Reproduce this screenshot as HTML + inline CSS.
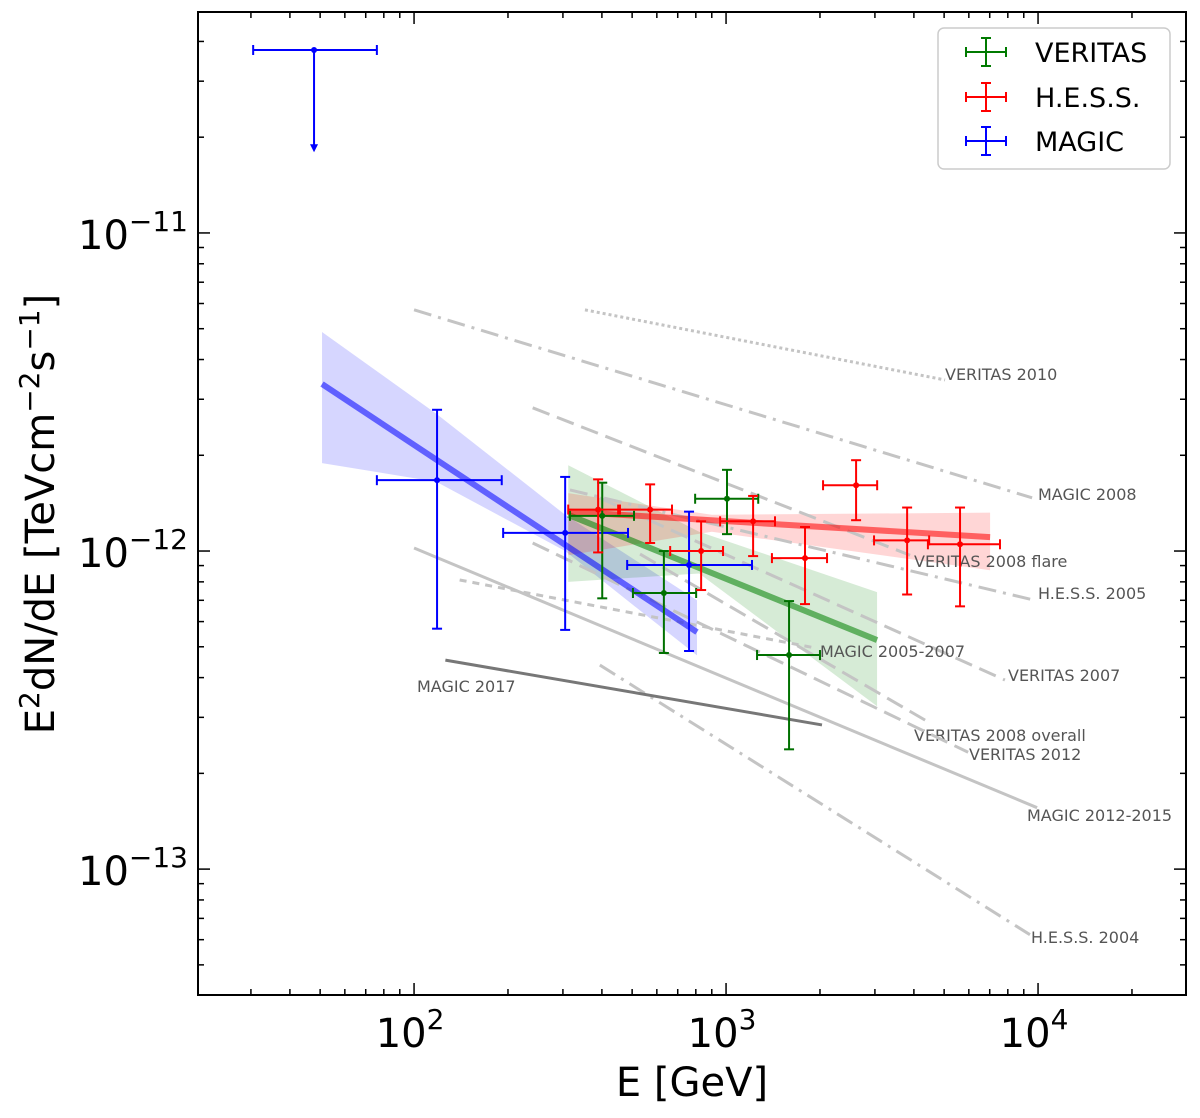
<!DOCTYPE html>
<html><head><meta charset="utf-8"><style>
body{margin:0;background:#fff;}
svg{display:block;font-family:"DejaVu Sans","Liberation Sans",sans-serif;}
</style></head><body>
<svg id="chart" width="1200" height="1118" viewBox="0 0 1200 1118" xmlns="http://www.w3.org/2000/svg">
<rect x="0" y="0" width="1200" height="1118" fill="#fff"/>
<g id="bands"></g><g id="refs"></g><g id="fits"></g><g id="pts"></g><g id="axes"></g>
<g>
<rect x="938" y="28" width="232" height="141" rx="6" fill="#fff" fill-opacity="0.85" stroke="#ccc" stroke-width="1.5"/>
<g stroke="#007a00" stroke-width="2"><line x1="966" y1="52" x2="1006" y2="52"/><line x1="986" y1="38" x2="986" y2="66"/><line x1="966" y1="47" x2="966" y2="57"/><line x1="1006" y1="47" x2="1006" y2="57"/><line x1="981" y1="38" x2="991" y2="38"/><line x1="981" y1="66" x2="991" y2="66"/></g>
<text x="1035" y="62" font-size="27" fill="#000">VERITAS</text>
<g stroke="#ff0000" stroke-width="2"><line x1="966" y1="97" x2="1006" y2="97"/><line x1="986" y1="83" x2="986" y2="111"/><line x1="966" y1="92" x2="966" y2="102"/><line x1="1006" y1="92" x2="1006" y2="102"/><line x1="981" y1="83" x2="991" y2="83"/><line x1="981" y1="111" x2="991" y2="111"/></g>
<text x="1035" y="107" font-size="27" fill="#000">H.E.S.S.</text>
<g stroke="#0000ff" stroke-width="2"><line x1="966" y1="141" x2="1006" y2="141"/><line x1="986" y1="127" x2="986" y2="155"/><line x1="966" y1="136" x2="966" y2="146"/><line x1="1006" y1="136" x2="1006" y2="146"/><line x1="981" y1="127" x2="991" y2="127"/><line x1="981" y1="155" x2="991" y2="155"/></g>
<text x="1035" y="151" font-size="27" fill="#000">MAGIC</text>
</g>
</svg>
<script>
// ---- data (E in GeV, flux in 1e-12 TeV cm^-2 s^-1) ----
const magicE = [118.5, 305, 761];
const magicF = [1.67, 1.14, 0.904];
const magicElo = [76, 193, 482];
const magicEhi = [191, 485, 1211];
const magicFlo = [0.57, 0.565, 0.485];
const magicFhi = [2.78, 1.71, 1.33];
const magicUL = [47.8, 37.6, 30.5, 76, 18.2]; // E, F, Elo, Ehi, arrow end
const veritasE = [401, 632, 1007, 1592];
const veritasF = [1.29, 0.738, 1.46, 0.471];
const veritasElo = [316, 503, 796, 1257];
const veritasEhi = [507, 802, 1268, 2000];
const veritasFlo = [0.71, 0.478, 1.13, 0.238];
const veritasFhi = [1.64, 1.0, 1.80, 0.696];
const hessE = [389, 571, 832, 1221, 1791, 2611, 3805, 5623];
const hessF = [1.35, 1.35, 1.0, 1.24, 0.95, 1.61, 1.08, 1.05];
const hessElo = [312, 451, 662, 957, 1403, 2046, 2981, 4436];
const hessEhi = [457, 671, 978, 1435, 2107, 3050, 4477, 7551];
const hessFlo = [0.99, 1.06, 0.754, 0.964, 0.681, 1.25, 0.73, 0.67];
const hessFhi = [1.68, 1.62, 1.24, 1.49, 1.19, 1.93, 1.37, 1.37];
// fits
const magicFitE = [50.7, 807];
const magicFitF = [3.35, 0.556];
const magicBandE = [50.7, 118, 305, 500, 807];
const magicBandHi = [4.88, 2.7, 1.3, 0.95, 0.70];
const magicBandLo = [1.89, 1.65, 1.0, 0.68, 0.47];
const veritasFitE = [312, 3048];
const veritasFitF = [1.30, 0.525];
const veritasBandE = [312, 820, 3048];
const veritasBandHi = [1.86, 1.15, 0.743];
const veritasBandLo = [0.80, 0.85, 0.325];
const hessFitE = [312, 7020];
const hessFitF = [1.33, 1.106];
const hessBandE = [312, 900, 7020];
const hessBandHi = [1.52, 1.30, 1.32];
const hessBandLo = [0.97, 1.15, 0.87];
// reference spectra
const refNames = ["VERITAS 2010","MAGIC 2008","VERITAS 2008 flare","H.E.S.S. 2005","VERITAS 2007","MAGIC 2005-2007","VERITAS 2008 overall","VERITAS 2012","MAGIC 2012-2015","H.E.S.S. 2004","MAGIC 2017"];
const refE1 = [353, 100, 240, 316, 394, 140, 530, 240, 100, 394, 126];
const refE2 = [5035, 9570, 3890, 9770, 7830, 1928, 4345, 5970, 9930, 9420, 2030];
const refF1 = [5.73, 5.73, 2.82, 1.556, 1.468, 0.811, 0.978, 1.06, 1.022, 0.438, 0.454];
const refF2 = [3.45, 1.47, 0.97, 0.70, 0.393, 0.496, 0.294, 0.233, 0.156, 0.0622, 0.284];
const refStyle = ["dot","dashdot","dash","dashdot","dash","short","dash","dash","solid","dashdot","dark"];
const refLabelX = [945, 1038, 914, 1038, 1008, 820, 914, 969, 1027, 1031, 417];
const refLabelY = [374, 494, 561, 593, 675, 651, 735, 754, 815, 937, 686];
const xTickVals = [100, 1000, 10000];
const xTickExp = ["2","3","4"];
const yTickVals = [10, 1, 0.1];
const yTickExp = ["−11","−12","−13"];

// ---- axes ----
const X0=198,X1=1186,Y0=12,Y1=995;
const xmin=Math.log10(20.3), xmax=Math.log10(29800);
const ymin=Math.log10(0.0402), ymax=Math.log10(49.5);
function sx(e){return X0+(Math.log10(e)-xmin)/(xmax-xmin)*(X1-X0);}
function sy(f){return Y1-(Math.log10(f)-ymin)/(ymax-ymin)*(Y1-Y0);}
const NS="http://www.w3.org/2000/svg";
function mk(tag,attrs,parent){const el=document.createElementNS(NS,tag);for(const k in attrs)el.setAttribute(k,attrs[k]);parent.appendChild(el);return el;}
const gB=document.getElementById('bands'),gR=document.getElementById('refs'),gF=document.getElementById('fits'),gP=document.getElementById('pts'),gA=document.getElementById('axes');

function band(E,hi,lo,col,name){
  let pts=E.map((e,i)=>sx(e)+','+sy(hi[i]));
  for(let i=E.length-1;i>=0;i--)pts.push(sx(E[i])+','+sy(lo[i]));
  const p=mk('polygon',{points:pts.join(' '),fill:col,'fill-opacity':0.16},gB);
  
  
}
band(magicBandE,magicBandHi,magicBandLo,'#0000ff','magic-fit-band');
band(veritasBandE,veritasBandHi,veritasBandLo,'#008000','veritas-fit-band');
band(hessBandE,hessBandHi,hessBandLo,'#ff0000','hess-fit-band');

const dashes={dot:'3,3',dashdot:'18,7,3,7',dash:'18,8',short:'7,6',solid:'',dark:''};
refNames.forEach((n,i)=>{
  const st=refStyle[i];
  const a={x1:sx(refE1[i]),y1:sy(refF1[i]),x2:sx(refE2[i]),y2:sy(refF2[i]),stroke:st==='dark'?'#777':'#c4c4c4','stroke-width':3};
  if(dashes[st])a['stroke-dasharray']=dashes[st];
  const l=mk('line',a,gR);
  
  
  const t=mk('text',{x:refLabelX[i],y:refLabelY[i]+6,'font-size':16,fill:'#555'},gR);
  t.textContent=n;
  
  
});

function fit(E,F,col,name){
  const l=mk('line',{x1:sx(E[0]),y1:sy(F[0]),x2:sx(E[1]),y2:sy(F[1]),stroke:col,'stroke-width':6,'stroke-opacity':0.55},gF);
  
  
}
fit(magicFitE,magicFitF,'#0000ff','magic-fit-line');
fit(veritasFitE,veritasFitF,'#008000','veritas-fit-line');
fit(hessFitE,hessFitF,'#ff0000','hess-fit-line');

function errs(E,F,El,Eh,Fl,Fh,col,name){
  E.forEach((e,i)=>{
    const g=mk('g',{stroke:col,'stroke-width':2,fill:col},gP);
    
    
    const x=sx(e),y=sy(F[i]),xl=sx(El[i]),xh=sx(Eh[i]),yl=sy(Fl[i]),yh=sy(Fh[i]);
    mk('line',{x1:xl,y1:y,x2:xh,y2:y},g);
    mk('line',{x1:x,y1:yh,x2:x,y2:yl},g);
    mk('line',{x1:xl,y1:y-5,x2:xl,y2:y+5},g);
    mk('line',{x1:xh,y1:y-5,x2:xh,y2:y+5},g);
    mk('line',{x1:x-5,y1:yh,x2:x+5,y2:yh},g);
    mk('line',{x1:x-5,y1:yl,x2:x+5,y2:yl},g);
    mk('circle',{cx:x,cy:y,r:3,stroke:'none'},g);
  });
}
errs(magicE,magicF,magicElo,magicEhi,magicFlo,magicFhi,'#0000ff','magic');
errs(veritasE,veritasF,veritasElo,veritasEhi,veritasFlo,veritasFhi,'#007000','veritas');
errs(hessE,hessF,hessElo,hessEhi,hessFlo,hessFhi,'#ff0000','hess');
(function(){
  const g=mk('g',{stroke:'#0000ff','stroke-width':2,fill:'#0000ff'},gP);
  
  
  const x=sx(magicUL[0]),y=sy(magicUL[1]),xl=sx(magicUL[2]),xh=sx(magicUL[3]),ya=sy(magicUL[4]);
  mk('line',{x1:xl,y1:y,x2:xh,y2:y},g);
  mk('line',{x1:xl,y1:y-5,x2:xl,y2:y+5},g);
  mk('line',{x1:xh,y1:y-5,x2:xh,y2:y+5},g);
  mk('line',{x1:x,y1:y,x2:x,y2:ya-4},g);
  mk('polygon',{points:`${x-4},${ya-6} ${x+4},${ya-6} ${x},${ya+2}`,stroke:'none'},g);
  mk('circle',{cx:x,cy:y,r:3,stroke:'none'},g);
})();

// frame and ticks
const fr=mk('rect',{x:X0,y:Y0,width:X1-X0,height:Y1-Y0,fill:'none',stroke:'#000','stroke-width':2},gA);


for(let d=1;d<=4;d++){for(let m=1;m<10;m++){const v=m*Math.pow(10,d);const x=sx(v);if(x<X0+1||x>X1-1)continue;const L=m===1?12:6;
  mk('line',{x1:x,y1:Y1,x2:x,y2:Y1-L,stroke:'#000','stroke-width':1.5},gA);
  mk('line',{x1:x,y1:Y0,x2:x,y2:Y0+L,stroke:'#000','stroke-width':1.5},gA);}}
for(let d=-2;d<=1;d++){for(let m=1;m<10;m++){const v=m*Math.pow(10,d);const y=sy(v);if(y<Y0+1||y>Y1-1)continue;const L=m===1?12:6;
  mk('line',{x1:X0,y1:y,x2:X0+L,y2:y,stroke:'#000','stroke-width':1.5},gA);
  mk('line',{x1:X1,y1:y,x2:X1-L,y2:y,stroke:'#000','stroke-width':1.5},gA);}}
xTickVals.forEach((v,i)=>{
  const t=mk('text',{x:sx(v)-4,y:1047,'font-size':40,'text-anchor':'middle',fill:'#000'},gA);
  t.innerHTML='10<tspan dy="-18" font-size="28">'+xTickExp[i]+'</tspan>';
  
  
});
yTickVals.forEach((v,i)=>{
  const t=mk('text',{x:188,y:sy(v)+16,'font-size':40,'text-anchor':'end',fill:'#000'},gA);
  t.innerHTML='10<tspan dy="-18" font-size="28">'+yTickExp[i]+'</tspan>';
  
  
});
const xt=mk('text',{x:692,y:1096,'font-size':40,'text-anchor':'middle',fill:'#000'},gA);
xt.textContent='E [GeV]';


const yt=mk('text',{x:0,y:0,'font-size':40,'text-anchor':'middle',fill:'#000',transform:'translate(54,514) rotate(-90)'},gA);
yt.innerHTML='E<tspan dy="-15" font-size="28">2</tspan><tspan dy="15">dN/dE [TeVcm</tspan><tspan dy="-15" font-size="28">−2</tspan><tspan dy="15">s</tspan><tspan dy="-15" font-size="28">−1</tspan><tspan dy="15">]</tspan>';


</script>
</body></html>
